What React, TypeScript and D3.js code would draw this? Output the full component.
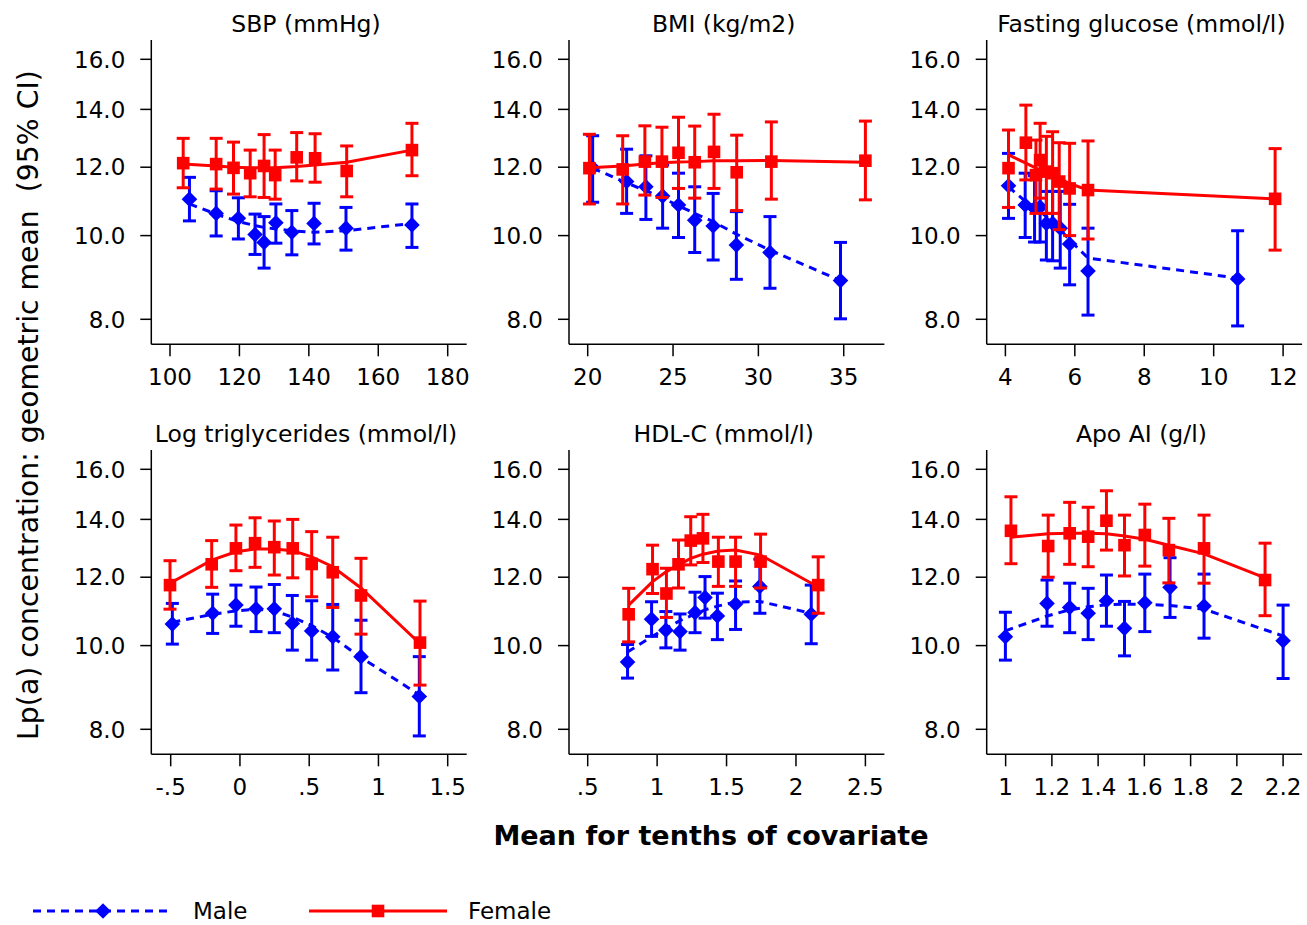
import React from "react";
import * as d3 from "d3";

// [x, estimate, lower CI, upper CI, fitted]
const sbpFemale = [
  [103.8, 12.13, 11.36, 12.96, 12.1], [113.3, 12.1, 11.32, 12.96, 12.04], [118.3, 11.98, 11.17, 12.83, 12.0],
  [123.1, 11.81, 11.09, 12.56, 11.98], [127.1, 12.04, 11.07, 13.09, 11.98], [130.3, 11.75, 11.02, 12.56, 11.98],
  [136.5, 12.32, 11.57, 13.16, 12.02], [141.8, 12.29, 11.53, 13.12, 12.07], [150.9, 11.88, 11.09, 12.7, 12.16],
  [169.7, 12.56, 11.73, 13.49, 12.56],
];
const sbpMale = [
  [105.6, 11.02, 10.4, 11.68, 10.88], [113.3, 10.61, 9.99, 11.27, 10.59], [119.7, 10.47, 9.91, 11.06, 10.38],
  [124.5, 10.03, 9.51, 10.59, 10.27], [127.1, 9.82, 9.17, 10.52, 10.22], [130.5, 10.35, 9.8, 10.88, 10.18],
  [135.1, 10.09, 9.5, 10.69, 10.13], [141.5, 10.33, 9.78, 10.9, 10.09], [150.7, 10.2, 9.62, 10.78, 10.13],
  [169.7, 10.29, 9.69, 10.88, 10.33],
];
const bmiFemale = [
  [20.1, 11.97, 10.88, 13.1, 11.98], [22.05, 11.93, 10.88, 13.05, 12.04], [23.35, 12.18, 11.14, 13.4, 12.1],
  [24.35, 12.18, 11.07, 13.35, 12.14], [25.32, 12.47, 11.34, 13.71, 12.17], [26.27, 12.16, 11.05, 13.39, 12.18],
  [27.4, 12.5, 11.34, 13.82, 12.21], [28.73, 11.84, 10.69, 13.07, 12.21], [30.76, 12.18, 11.02, 13.54, 12.22],
  [36.27, 12.21, 11.0, 13.57, 12.16],
];
const bmiMale = [
  [20.29, 11.98, 10.93, 13.05, 11.97], [22.28, 11.55, 10.61, 12.59, 11.51], [23.41, 11.39, 10.44, 12.37, 11.27],
  [24.39, 11.11, 10.2, 12.07, 11.05], [25.32, 10.85, 9.95, 11.81, 10.83], [26.27, 10.42, 9.56, 11.39, 10.61],
  [27.35, 10.26, 9.37, 11.19, 10.38], [28.71, 9.75, 8.9, 10.66, 10.04], [30.68, 9.56, 8.69, 10.52, 9.62],
  [34.81, 8.87, 8.01, 9.82, 8.87],
];
const glucoseFemale = [
  [4.09, 11.97, 10.78, 13.25, 12.4], [4.59, 12.81, 11.6, 14.16, 12.13], [4.88, 11.75, 10.61, 12.9, 11.97],
  [5.0, 12.23, 11.05, 13.49, 11.91], [5.18, 11.86, 10.61, 13.03, 11.84], [5.36, 11.81, 10.61, 13.19, 11.75],
  [5.55, 11.55, 10.16, 12.81, 11.65], [5.85, 11.34, 10.0, 12.79, 11.49], [6.38, 11.29, 9.91, 12.87, 11.29],
  [11.77, 11.03, 9.62, 12.61, 11.03],
];
const glucoseMale = [
  [4.09, 11.42, 10.47, 12.45, 11.39], [4.57, 10.85, 9.95, 11.81, 10.96], [4.84, 10.75, 9.83, 11.73, 10.79],
  [5.0, 10.79, 9.83, 11.75, 10.66], [5.18, 10.33, 9.37, 11.25, 10.52], [5.36, 10.33, 9.35, 11.25, 10.38],
  [5.58, 10.2, 9.17, 11.25, 10.16], [5.85, 9.78, 8.77, 10.87, 9.88], [6.38, 9.1, 8.09, 10.2, 9.42],
  [10.69, 8.91, 7.86, 10.13, 8.93],
];
const tgFemale = [
  [-0.505, 11.75, 11.02, 12.54, 11.81], [-0.204, 12.42, 11.68, 13.23, 12.56], [-0.029, 12.96, 12.21, 13.79, 12.84],
  [0.109, 13.14, 12.32, 14.06, 12.94], [0.248, 13.0, 12.07, 13.94, 12.94], [0.381, 12.96, 11.98, 14.0, 12.88],
  [0.518, 12.43, 11.39, 13.55, 12.67], [0.67, 12.16, 11.07, 13.35, 12.34], [0.874, 11.43, 10.31, 12.62, 11.66],
  [1.3, 10.08, 9.0, 11.26, 10.05],
];
const tgMale = [
  [-0.488, 10.59, 10.04, 11.19, 10.64], [-0.197, 10.9, 10.33, 11.47, 10.87], [-0.029, 11.14, 10.53, 11.75, 10.97],
  [0.116, 11.03, 10.38, 11.69, 11.02], [0.248, 11.03, 10.35, 11.77, 10.97], [0.378, 10.61, 9.88, 11.43, 10.79],
  [0.518, 10.4, 9.62, 11.27, 10.55], [0.67, 10.24, 9.37, 11.16, 10.22], [0.874, 9.71, 8.82, 10.7, 9.69],
  [1.295, 8.73, 7.86, 9.71, 8.77],
];
const hdlFemale = [
  [0.795, 10.87, 10.1, 11.65, 11.14], [0.967, 12.26, 11.49, 13.07, 11.86], [1.067, 11.49, 10.78, 12.29, 12.18],
  [1.154, 12.42, 11.66, 13.25, 12.4], [1.242, 13.23, 12.4, 14.1, 12.62], [1.33, 13.31, 12.48, 14.19, 12.76],
  [1.441, 12.51, 11.71, 13.35, 12.87], [1.565, 12.51, 11.71, 13.35, 12.9], [1.745, 12.51, 11.66, 13.46, 12.73],
  [2.16, 11.75, 10.9, 12.67, 11.69],
];
const hdlMale = [
  [0.787, 9.57, 9.17, 10.03, 9.83], [0.96, 10.73, 10.25, 11.24, 10.24], [1.063, 10.42, 9.94, 10.95, 10.47],
  [1.165, 10.38, 9.88, 10.88, 10.69], [1.273, 10.92, 10.35, 11.53, 10.88], [1.345, 11.37, 10.76, 12.02, 11.0],
  [1.434, 10.82, 10.16, 11.5, 11.11], [1.565, 11.17, 10.44, 11.88, 11.23], [1.74, 11.71, 10.9, 12.59, 11.25],
  [2.11, 10.87, 10.05, 11.75, 10.9],
];
const apoFemale = [
  [1.023, 13.58, 12.44, 14.87, 13.35], [1.184, 13.04, 12.0, 14.16, 13.47], [1.277, 13.49, 12.42, 14.65, 13.49],
  [1.357, 13.37, 12.34, 14.46, 13.49], [1.436, 13.95, 12.9, 15.11, 13.47], [1.514, 13.07, 12.04, 14.16, 13.39],
  [1.602, 13.43, 12.36, 14.58, 13.28], [1.706, 12.9, 11.82, 14.04, 13.07], [1.858, 12.96, 11.81, 14.16, 12.77],
  [2.122, 11.91, 10.83, 13.14, 11.98],
];
const apoMale = [
  [0.999, 10.24, 9.62, 10.93, 10.4], [1.179, 11.19, 10.53, 11.91, 10.82], [1.277, 11.07, 10.35, 11.81, 11.0],
  [1.357, 10.9, 10.16, 11.65, 11.09], [1.436, 11.27, 10.53, 12.07, 11.15], [1.514, 10.47, 9.73, 11.25, 11.17],
  [1.602, 11.21, 10.38, 12.1, 11.16], [1.711, 11.68, 10.78, 12.64, 11.13], [1.858, 11.11, 10.2, 12.1, 11.02],
  [2.2, 10.13, 9.16, 11.14, 10.26],
];

const panelTitles = [
  "SBP (mmHg)", "BMI (kg/m2)", "Fasting glucose (mmol/l)",
  "Log triglycerides (mmol/l)", "HDL-C (mmol/l)", "Apo AI (g/l)",
];
const xTicks = [
  [100, 120, 140, 160, 180],
  [20, 25, 30, 35],
  [4, 6, 8, 10, 12],
  [-0.5, 0, 0.5, 1, 1.5],
  [0.5, 1, 1.5, 2, 2.5],
  [1, 1.2, 1.4, 1.6, 1.8, 2, 2.2],
];
const xTickLabels = [
  ["100", "120", "140", "160", "180"],
  ["20", "25", "30", "35"],
  ["4", "6", "8", "10", "12"],
  ["-.5", "0", ".5", "1", "1.5"],
  [".5", "1", "1.5", "2", "2.5"],
  ["1", "1.2", "1.4", "1.6", "1.8", "2", "2.2"],
];
const yTicks = [8, 10, 12, 14, 16];
const yTickLabels = ["8.0", "10.0", "12.0", "14.0", "16.0"];
const maleSeries = [sbpMale, bmiMale, glucoseMale, tgMale, hdlMale, apoMale];
const femaleSeries = [sbpFemale, bmiFemale, glucoseFemale, tgFemale, hdlFemale, apoFemale];

const FONT = "DejaVu Sans, Verdana, sans-serif";
const BLUE = "#0000ff";
const RED = "#ff0000";
const colLeft = [151.3, 569, 986.7];
const rowTop = [40, 450];
const plotW = 315.4;
const plotH = 304.3;

function Diamond({ x, y, r, fill }: any) {
  return <path d={`M${x},${y - r}L${x + r},${y}L${x},${y + r}L${x - r},${y}Z`} fill={fill} />;
}

function Series({ data, xs, ys, color, dashed, male }: any) {
  const line = d3.line<any>().x((d) => xs(d[0])).y((d) => ys(d[4]));
  return (
    <g>
      <path d={line(data) || ""} fill="none" stroke={color} strokeWidth={3}
        strokeDasharray={dashed ? "8,6" : undefined} />
      {data.map((d: any, i: number) => {
        const x = xs(d[0]);
        return (
          <g key={i} stroke={color} strokeWidth={3}>
            <line x1={x} x2={x} y1={ys(d[2])} y2={ys(d[3])} />
            <line x1={x - 6.5} x2={x + 6.5} y1={ys(d[2])} y2={ys(d[2])} />
            <line x1={x - 6.5} x2={x + 6.5} y1={ys(d[3])} y2={ys(d[3])} />
          </g>
        );
      })}
      {data.map((d: any, i: number) =>
        male ? (
          <Diamond key={"m" + i} x={xs(d[0])} y={ys(d[1])} r={7.8} fill={color} />
        ) : (
          <rect key={"m" + i} x={xs(d[0]) - 6.3} y={ys(d[1]) - 6.3} width={12.6} height={12.6} fill={color} />
        )
      )}
    </g>
  );
}

function Panel({ idx }: { idx: number }) {
  const col = idx % 3;
  const row = Math.floor(idx / 3);
  const left = colLeft[col];
  const top = rowTop[row];
  const right = left + plotW;
  const bottom = top + plotH;
  const male = maleSeries[idx];
  const female = femaleSeries[idx];
  const ticks = xTicks[idx];
  const allX = [...male, ...female].map((d) => d[0]);
  const lo = Math.min(ticks[0], d3.min(allX) as number);
  const hi = Math.max(ticks[ticks.length - 1], d3.max(allX) as number);
  const xs = d3.scaleLinear().domain([lo, hi]).range([left + 18.7, right - 19]);
  const ys = d3.scaleLog().domain([8, 16]).range([top + 279.3, top + 19.3]);
  return (
    <g>
      <text x={(left + right) / 2 - 3} y={top - 8} textAnchor="middle" fontSize={23.5} fontFamily={FONT}>
        {panelTitles[idx]}
      </text>
      <line x1={left} x2={left} y1={top} y2={bottom} stroke="#000" strokeWidth={1.5} />
      <line x1={left} x2={right} y1={bottom} y2={bottom} stroke="#000" strokeWidth={1.5} />
      {yTicks.map((t, i) => (
        <g key={t}>
          <line x1={left - 11} x2={left} y1={ys(t)} y2={ys(t)} stroke="#000" strokeWidth={1.5} />
          <text x={left - 26} y={ys(t)} dy="0.36em" textAnchor="end" fontSize={23} fontFamily={FONT}>
            {yTickLabels[i]}
          </text>
        </g>
      ))}
      {ticks.map((t, i) => (
        <g key={t}>
          <line x1={xs(t)} x2={xs(t)} y1={bottom} y2={bottom + 12} stroke="#000" strokeWidth={1.5} />
          <text x={xs(t)} y={bottom + 41} textAnchor="middle" fontSize={23} fontFamily={FONT}>
            {xTickLabels[idx][i]}
          </text>
        </g>
      ))}
      <Series data={male} xs={xs} ys={ys} color={BLUE} dashed male />
      <Series data={female} xs={xs} ys={ys} color={RED} />
    </g>
  );
}

export default function App() {
  return (
    <svg width={1307} height={925} style={{ position: "absolute", left: 0, top: 0, background: "#fff" }}>
      <rect width={1307} height={925} fill="#fff" />
      {[0, 1, 2, 3, 4, 5].map((i) => (
        <Panel key={i} idx={i} />
      ))}
      <text transform="translate(38,405) rotate(-90)" textAnchor="middle" fontSize={28.3} fontFamily={FONT}>
        Lp(a) concentration: geometric mean{"\u00a0\u00a0"}(95% CI)
      </text>
      <text x={711} y={845} textAnchor="middle" fontSize={27} fontWeight="bold" fontFamily={FONT}>
        Mean for tenths of covariate
      </text>
      <g>
        <line x1={33} x2={173} y1={911} y2={911} stroke={BLUE} strokeWidth={3} strokeDasharray="8,6" />
        <Diamond x={103} y={911} r={7.8} fill={BLUE} />
        <text x={193} y={919} fontSize={23} fontFamily={FONT}>Male</text>
        <line x1={309} x2={447} y1={911} y2={911} stroke={RED} strokeWidth={3} />
        <rect x={371.7} y={904.7} width={12.6} height={12.6} fill={RED} />
        <text x={468} y={919} fontSize={23} fontFamily={FONT}>Female</text>
      </g>
    </svg>
  );
}
